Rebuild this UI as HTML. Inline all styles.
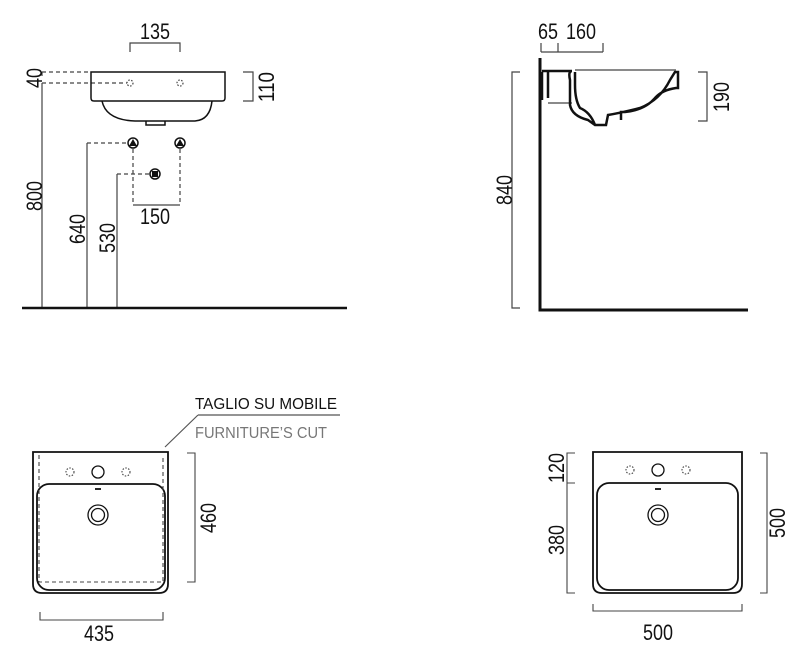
<!DOCTYPE html>
<html><head><meta charset="utf-8"><style>
html,body{margin:0;padding:0;background:#fff}
svg{display:block}
.d{font-family:"Liberation Sans",sans-serif;font-size:22px;fill:#111}
</style></head><body>
<svg width="800" height="665" viewBox="0 0 800 665" xmlns="http://www.w3.org/2000/svg">
<g fill="none" stroke="#444" stroke-width="1.2">
<path d="M130 52V43H180V52"/>
<path d="M42 72H91M42 83H127" stroke-dasharray="4 3"/>
<path d="M42 83V308M42 72V76"/>
<path d="M243 72H253V101H243"/>
<path d="M87 308V143M117 308V174" />
<path d="M87 143H128M117 174H150" stroke-dasharray="4 3"/>
<path d="M133 149V205M180 149V205" stroke-dasharray="4 3"/>
<path d="M133 205H180"/>
<circle cx="130" cy="83" r="3" stroke-dasharray="1.5 1.5"/>
<circle cx="180" cy="83" r="3" stroke-dasharray="1.5 1.5"/>
</g>
<g fill="none" stroke="#111" stroke-width="1.5">
<path d="M91 72H225V98Q225 101 222 101H94Q91 101 91 98Z"/>
<path d="M102 101Q106 120 135 121H195Q210 120 212 101"/>
<path d="M146 121V125H165V121"/>
<circle cx="133" cy="143" r="5"/><circle cx="180" cy="143" r="5"/>
<circle cx="155" cy="174" r="5"/>
</g>
<path d="M133 139L129 146H137Z M180 139L176 146H184Z" fill="#111"/>
<rect x="152" y="171" width="6" height="6" fill="#111"/>
<path d="M22 308H347" stroke="#111" stroke-width="2.5"/>
<text class="d" x="140" y="39" textLength="30" lengthAdjust="spacingAndGlyphs">135</text>
<text class="d" x="140" y="224" textLength="30" lengthAdjust="spacingAndGlyphs">150</text>
<text class="d" transform="translate(42,88) rotate(-90)" textLength="20" lengthAdjust="spacingAndGlyphs">40</text>
<text class="d" transform="translate(42,211) rotate(-90)" textLength="30" lengthAdjust="spacingAndGlyphs">800</text>
<text class="d" transform="translate(85,244) rotate(-90)" textLength="30" lengthAdjust="spacingAndGlyphs">640</text>
<text class="d" transform="translate(115,253) rotate(-90)" textLength="30" lengthAdjust="spacingAndGlyphs">530</text>
<text class="d" transform="translate(274,102) rotate(-90)" textLength="30" lengthAdjust="spacingAndGlyphs">110</text>

<g fill="none" stroke="#444" stroke-width="1.2">
<path d="M541 43V52M558 43V52M603 43V52M541 52H603"/>
<path d="M520 72H512V308H520"/>
<path d="M698 72H707V121H698"/>
<path d="M575 70H676"/>
<path d="M548 103H572"/>
</g>
<path d="M540 58V310H748" fill="none" stroke="#111" stroke-width="3"/>
<g fill="none" stroke="#111" stroke-width="2.5">
<path d="M542 72V100M548 72V98"/>
<path d="M542 71H572Q568 71 570 80V105Q572 116 588 120L595 125H606L608 115Q620 113 640 108Q660 100 670 80L675 72H678V88H676Q662 90 655 98Q645 110 625 112L621 112V120M595 125Q590 112 580 108Q575 100 575 85V72"/>
</g>
<text class="d" x="538" y="39" textLength="20" lengthAdjust="spacingAndGlyphs">65</text>
<text class="d" x="566" y="39" textLength="30" lengthAdjust="spacingAndGlyphs">160</text>
<text class="d" transform="translate(512,205) rotate(-90)" textLength="30" lengthAdjust="spacingAndGlyphs">840</text>
<text class="d" transform="translate(729,112) rotate(-90)" textLength="30" lengthAdjust="spacingAndGlyphs">190</text>

<text x="195" y="409" font-family="Liberation Sans,sans-serif" font-size="16" fill="#111" textLength="142" lengthAdjust="spacingAndGlyphs">TAGLIO SU MOBILE</text>
<text x="195" y="438" font-family="Liberation Sans,sans-serif" font-size="16" fill="#777" textLength="132" lengthAdjust="spacingAndGlyphs">FURNITURE’S CUT</text>
<path d="M198 415H340M198 415L165 447" stroke="#555" stroke-width="1.2" fill="none"/>
<g fill="none" stroke="#111" stroke-width="1.8">
<path d="M33 452H168V584Q168 593 159 593H42Q33 593 33 584Z"/>
<rect x="37" y="484" width="128" height="106" rx="12"/>
<circle cx="98" cy="472" r="6" stroke-width="1.3"/>
<circle cx="98" cy="515" r="10" stroke-width="1.3"/><circle cx="98" cy="515" r="6.5" stroke-width="1.3"/>
<path d="M95 489H101"/>
</g>
<g fill="none" stroke="#444" stroke-width="1.1">
<path d="M39 455V582H163V455" stroke-dasharray="4 3"/>
<circle cx="70" cy="472" r="4" stroke-dasharray="1.5 1.5"/>
<circle cx="126" cy="472" r="4" stroke-dasharray="1.5 1.5"/>
<path d="M187 453H195V582H187"/>
<path d="M40 612V620H163V612"/>
</g>
<text class="d" x="84" y="641" textLength="30" lengthAdjust="spacingAndGlyphs">435</text>
<text class="d" transform="translate(216,533) rotate(-90)" textLength="30" lengthAdjust="spacingAndGlyphs">460</text>

<g fill="none" stroke="#111" stroke-width="1.8">
<path d="M593 452H742V584Q742 593 733 593H602Q593 593 593 584Z"/>
<rect x="597" y="483" width="141" height="107" rx="12"/>
<circle cx="658" cy="470" r="6" stroke-width="1.3"/>
<circle cx="658" cy="515" r="10" stroke-width="1.3"/><circle cx="658" cy="515" r="6.5" stroke-width="1.3"/>
<path d="M655 489H661"/>
</g>
<g fill="none" stroke="#444" stroke-width="1.1">
<circle cx="630" cy="470" r="4" stroke-dasharray="1.5 1.5"/>
<circle cx="686" cy="470" r="4" stroke-dasharray="1.5 1.5"/>
<path d="M575 453H567V593H575M567 483H575"/>
<path d="M760 453H767V593H760"/>
<path d="M593 604V611H742V604"/>
</g>
<text class="d" x="643" y="640" textLength="30" lengthAdjust="spacingAndGlyphs">500</text>
<text class="d" transform="translate(564,483) rotate(-90)" textLength="30" lengthAdjust="spacingAndGlyphs">120</text>
<text class="d" transform="translate(564,555) rotate(-90)" textLength="30" lengthAdjust="spacingAndGlyphs">380</text>
<text class="d" transform="translate(785,538) rotate(-90)" textLength="30" lengthAdjust="spacingAndGlyphs">500</text>
</svg>
</body></html>
